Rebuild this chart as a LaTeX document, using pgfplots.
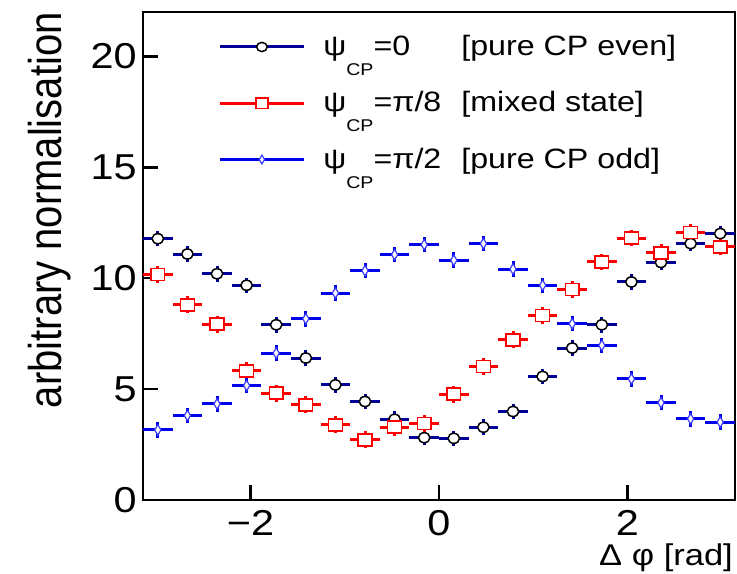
\documentclass[border=0pt]{standalone}
\usepackage{pgfplots}
\pgfplotsset{compat=1.18}
\usepackage{fontspec}
\setmainfont{Liberation Sans}
\usepackage{graphicx}

\definecolor{evenbar}{RGB}{0,0,150}
\definecolor{mixred}{RGB}{255,0,0}
\definecolor{oddbar}{RGB}{0,0,235}
\definecolor{oddmark}{RGB}{60,60,255}

% the reference looks stretched sideways a little
\newcommand{\sx}[1]{\scalebox{1.15}[1]{#1}}
\newcommand{\sub}[1]{\raisebox{-10pt}[0pt][0pt]{\fontsize{8.5}{8.5}\selectfont #1}}

\begin{document}
\begin{tikzpicture}
\useasboundingbox (-71.5pt,-36.5pt) rectangle (297pt,250pt);
\begin{axis}[
  at={(0pt,0pt)}, anchor=south west,
  scale only axis, width=296pt, height=244pt,
  xmin=-3.14159, xmax=3.14159, ymin=0, ymax=22,
  xtick={-2,0,2}, xticklabels={\sx{−2},\sx{0},\sx{2}},
  ytick={0,5,10,15,20}, yticklabels={\sx{0},\sx{5},\sx{10},\sx{15},\sx{20}},
  tick pos=left, tick align=inside, major tick length=7.5pt,
  minor tick num=0,
  every tick/.style={black, line width=1.3pt},
  axis line style={line width=1.3pt},
  ticklabel style={font=\fontsize{18}{18}\selectfont, inner sep=0pt},
  yticklabel style={xshift=-3pt},
  xticklabel style={yshift=-5pt},
  xlabel={\sx{Δ φ [rad]}},
  xlabel style={at={(axis description cs:0.997,-0.134)}, anchor=base east, font=\fontsize{15}{15}\selectfont, inner sep=0pt},
  ylabel={\scalebox{1}[1.15]{arbitrary normalisation}},
  ylabel style={at={(axis description cs:-0.137,1)}, anchor=base east, font=\fontsize{20}{20}\selectfont, inner sep=0pt},
  legend style={at={(rel axis cs:0.1267,0.953)}, anchor=north west, draw=none, fill=none,
    inner sep=0pt, row sep=16.5pt, column sep=9pt, font=\fontsize{14}{14}\selectfont,
    nodes={inner sep=0pt}},
  legend cell align=left,
  legend image code/.code={\draw[mark repeat=2, mark phase=2, #1] plot coordinates {(0pt,0pt) (21pt,0pt) (42pt,0pt)};},
  error bars/error mark=none,
]
\addlegendimage{evenbar, line width=1.5pt, mark=*, mark options={draw=black, fill=white, line width=0.75pt, mark size=2.3pt, xscale=1.15}}
\addlegendentry{\sx{\makebox[60pt][l]{ψ\sub{CP}=0}[pure CP even]}}
\addlegendimage{mixred, line width=1.5pt, mark=square*, mark options={draw=mixred, fill=white, line width=0.75pt, mark size=2.6pt, xscale=1.15}}
\addlegendentry{\sx{\makebox[60pt][l]{ψ\sub{CP}=π/8}[mixed state]}}
\addlegendimage{oddbar, line width=1.5pt, mark=diamond*, mark options={draw=oddmark, fill=white, line width=0.6pt, mark size=2.2pt, xscale=0.8}}
\addlegendentry{\sx{\makebox[60pt][l]{ψ\sub{CP}=π/2}[pure CP odd]}}

% psi_CP = 0
\addplot[only marks, mark=*, mark options={draw=black, fill=white, line width=0.75pt, mark size=2.5pt, xscale=1.15},
  error bars/.cd, x dir=both, x explicit, y dir=both, y explicit,
  error bar style={evenbar, line width=1.5pt}]
coordinates {
(-2.9845,11.78) +- (0.1571,0.35)
(-2.6704,11.09) +- (0.1571,0.35)
(-2.3562,10.20) +- (0.1571,0.35)
(-2.0420,9.68) +- (0.1571,0.35)
(-1.7279,7.90) +- (0.1571,0.35)
(-1.4137,6.40) +- (0.1571,0.35)
(-1.0996,5.19) +- (0.1571,0.35)
(-0.7854,4.44) +- (0.1571,0.35)
(-0.4712,3.64) +- (0.1571,0.35)
(-0.1571,2.81) +- (0.1571,0.35)
(0.1571,2.78) +- (0.1571,0.35)
(0.4712,3.28) +- (0.1571,0.35)
(0.7854,3.99) +- (0.1571,0.35)
(1.0996,5.57) +- (0.1571,0.35)
(1.4137,6.85) +- (0.1571,0.35)
(1.7279,7.90) +- (0.1571,0.35)
(2.0420,9.83) +- (0.1571,0.35)
(2.3562,10.71) +- (0.1571,0.35)
(2.6704,11.56) +- (0.1571,0.35)
(2.9845,12.01) +- (0.1571,0.35)
};

% psi_CP = pi/8
\addplot[only marks, mark=square*, mark options={draw=mixred, fill=white, line width=0.75pt, mark size=3pt, xscale=1.15},
  error bars/.cd, x dir=both, x explicit, y dir=both, y explicit,
  error bar style={mixred, line width=1.5pt}]
coordinates {
(-2.9845,10.16) +- (0.1571,0.38)
(-2.6704,8.80) +- (0.1571,0.38)
(-2.3562,7.93) +- (0.1571,0.38)
(-2.0420,5.82) +- (0.1571,0.38)
(-1.7279,4.82) +- (0.1571,0.38)
(-1.4137,4.29) +- (0.1571,0.38)
(-1.0996,3.39) +- (0.1571,0.38)
(-0.7854,2.71) +- (0.1571,0.38)
(-0.4712,3.28) +- (0.1571,0.38)
(-0.1571,3.46) +- (0.1571,0.38)
(0.1571,4.77) +- (0.1571,0.38)
(0.4712,6.02) +- (0.1571,0.38)
(0.7854,7.22) +- (0.1571,0.38)
(1.0996,8.32) +- (0.1571,0.38)
(1.4137,9.48) +- (0.1571,0.38)
(1.7279,10.73) +- (0.1571,0.38)
(2.0420,11.81) +- (0.1571,0.38)
(2.3562,11.14) +- (0.1571,0.38)
(2.6704,12.07) +- (0.1571,0.38)
(2.9845,11.41) +- (0.1571,0.38)
};

% psi_CP = pi/2
\addplot[only marks, mark=diamond*, mark options={draw=oddmark, fill=white, line width=0.6pt, mark size=2.6pt, xscale=0.8},
  error bars/.cd, x dir=both, x explicit, y dir=both, y explicit,
  error bar style={oddbar, line width=1.5pt}]
coordinates {
(-2.9845,3.16) +- (0.1571,0.35)
(-2.6704,3.81) +- (0.1571,0.35)
(-2.3562,4.33) +- (0.1571,0.35)
(-2.0420,5.16) +- (0.1571,0.35)
(-1.7279,6.62) +- (0.1571,0.35)
(-1.4137,8.17) +- (0.1571,0.35)
(-1.0996,9.33) +- (0.1571,0.35)
(-0.7854,10.34) +- (0.1571,0.35)
(-0.4712,11.06) +- (0.1571,0.35)
(-0.1571,11.51) +- (0.1571,0.35)
(0.1571,10.81) +- (0.1571,0.35)
(0.4712,11.56) +- (0.1571,0.35)
(0.7854,10.41) +- (0.1571,0.35)
(1.0996,9.68) +- (0.1571,0.35)
(1.4137,7.95) +- (0.1571,0.35)
(1.7279,6.97) +- (0.1571,0.35)
(2.0420,5.46) +- (0.1571,0.35)
(2.3562,4.39) +- (0.1571,0.35)
(2.6704,3.66) +- (0.1571,0.35)
(2.9845,3.51) +- (0.1571,0.35)
};
\end{axis}
\end{tikzpicture}
\end{document}
